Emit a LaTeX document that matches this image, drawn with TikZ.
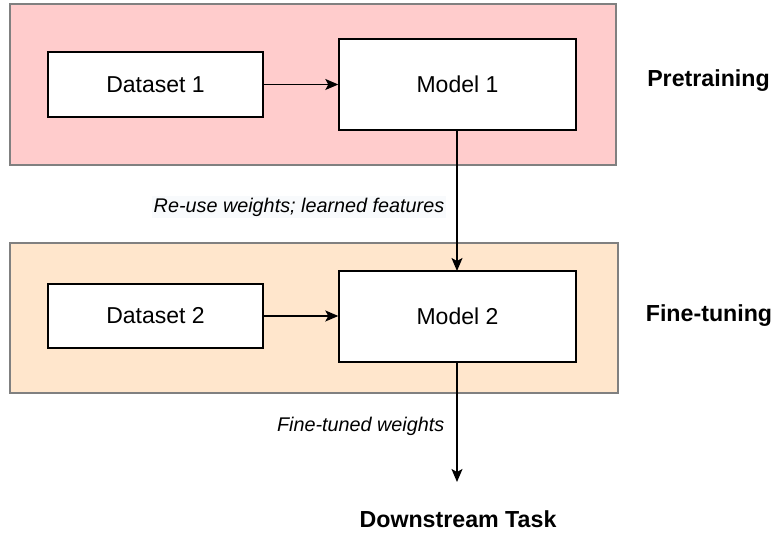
\documentclass[tikz,border=0pt]{standalone}
\usepackage{fontspec}
\setmainfont{Liberation Sans}
\usetikzlibrary{arrows.meta}

\definecolor{pretrainfill}{RGB}{255,204,204}
\definecolor{finetunefill}{RGB}{255,230,204}
\definecolor{stageborder}{RGB}{128,128,128}
\definecolor{labelbg}{RGB}{248,250,252}

\tikzset{
  stage/.style={draw=stageborder, line width=1.6pt},
  block/.style={draw=black, line width=1.4pt, fill=white, inner sep=0pt,
                font=\fontsize{23}{27}\selectfont},
  stagelabel/.style={font=\fontsize{23.2}{27}\selectfont\bfseries},
  edgelabel/.style={font=\fontsize{19.8}{24}\selectfont\itshape, anchor=east, inner sep=1.5pt},
  flow/.style={draw=black, line width=1.3pt,
               -{Stealth[length=13pt, width=11pt, inset=3pt]}},
}

\begin{document}
\begin{tikzpicture}[x=1pt, y=-1pt]
  \useasboundingbox (0,0) rectangle (772,534);

  % stage backgrounds
  \draw[stage, fill=pretrainfill] (10,4) rectangle (616,165);
  \draw[stage, fill=finetunefill] (10,243) rectangle (618,393);

  % pretraining stage
  \node[block, minimum width=215pt, minimum height=65pt] (data1) at (155.5,84.5) {Dataset 1};
  \node[block, minimum width=237pt, minimum height=91pt] (model1) at (457.5,84.5) {Model 1};
  \node[stagelabel] (pre) at (708.5,80.5) {Pretraining};

  % fine-tuning stage
  \node[block, minimum width=215pt, minimum height=64pt] (data2) at (155.5,316) {Dataset 2};
  \node[block, minimum width=237pt, minimum height=91pt] (model2) at (457.5,316.5) {Model 2};
  \node[stagelabel] (fine) at (709,315.5) {Fine-tuning};

  % downstream target
  \node[stagelabel] (task) at (458,519) {Downstream Task};
  \coordinate (taskin) at (457,482);

  % connectors
  \draw[flow] (data1.east) -- (model1.west |- data1.east);
  \draw[flow] (data2.east) -- (model2.west |- data2.east);
  \draw[flow] (457,130) coordinate (m1out) -- (457,271) coordinate (m2in);
  \draw[flow] (457,362) coordinate (m2out) -- (taskin);

  % connector labels
  \node[edgelabel, fill=labelbg] (reuse) at (446,207) {Re-use weights; learned features};
  \node[edgelabel] (tuned) at (446,426) {Fine-tuned weights};
\end{tikzpicture}
\end{document}
